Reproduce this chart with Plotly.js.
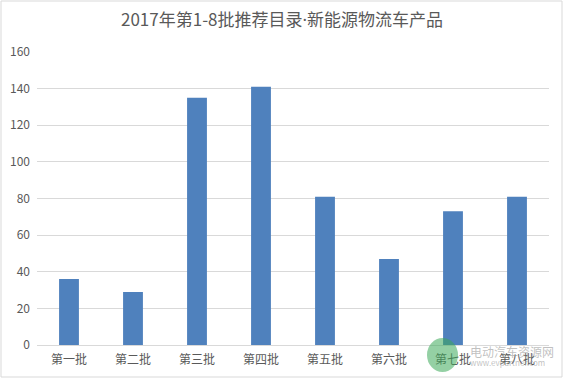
<!DOCTYPE html>
<html><head><meta charset="utf-8">
<script src="https://cdn.plot.ly/plotly-3.0.1.min.js"></script>
<style>html,body{margin:0;padding:0;background:#fff}#c{width:564px;height:379px}</style>
</head><body><div id="c"></div>
<script>
const categories = ['第一批','第二批','第三批','第四批','第五批','第六批','第七批','第八批'];
const values = [36, 29, 135, 141, 81, 47, 73, 81];
const yTicks = [0, 20, 40, 60, 80, 100, 120, 140, 160];
const titleParts = ['2017年第1-8批推荐目录', '新能源物流车产品'];

const font = "'Noto Sans CJK SC', 'Noto Sans', sans-serif";
const titleText = titleParts[0] + "<span style=\"font-family:'Noto Sans'\">·</span>" + titleParts[1];
Plotly.newPlot('c', [{
  type: 'bar', x: categories, y: values,
  marker: {color: '#4f81bd'}, hoverinfo: 'none'
}], {
  width: 564, height: 379,
  margin: {l: 37, r: 15, t: 52, b: 34},
  paper_bgcolor: '#fff', plot_bgcolor: '#fff',
  bargap: 0.69,
  title: {text: titleText, x: 0.5, xanchor: 'center', y: 0.947, yanchor: 'middle',
          font: {family: font, size: 17, color: '#595959'}},
  font: {family: font, color: '#595959', size: 12},
  xaxis: {showgrid: false, showline: true, linecolor: '#d9d9d9', linewidth: 1,
          ticks: '', tickfont: {size: 12, color: '#595959'}, ticklabelstandoff: 4, fixedrange: true},
  yaxis: {range: [0, 160], tickvals: yTicks, showgrid: true, gridcolor: '#d9d9d9',
          zeroline: false, showline: false, ticks: '', ticklen: 0, ticklabelstandoff: 6,
          tickfont: {size: 12, color: '#595959'}, fixedrange: true},
  shapes: [
    {type: 'rect', xref: 'paper', yref: 'paper', x0: -36/512, x1: 1 + 13/512,
     y0: -32/293, y1: 1 + 51/293, line: {color: '#d9d9d9', width: 1}},
    {type: 'circle', xref: 'paper', yref: 'paper', x0: (427-37)/512, x1: (458-37)/512,
     y0: (345-372)/293, y1: (345-338)/293, fillcolor: 'rgba(60,170,90,0.55)', line: {width: 0}, layer: 'above'}
  ],
  annotations: [
    {xref: 'paper', yref: 'paper', x: (468-37)/512, y: (345-351)/293, xanchor: 'left', yanchor: 'middle',
     text: '电动汽车资源网', showarrow: false, font: {family: font, size: 12, color: 'rgba(150,150,150,0.6)'}},
    {xref: 'paper', yref: 'paper', x: (468-37)/512, y: (345-362)/293, xanchor: 'left', yanchor: 'middle',
     text: 'www.evpartner.com', showarrow: false, font: {family: font, size: 8, color: 'rgba(150,150,150,0.6)'}}
  ],
  showlegend: false
}, {displayModeBar: false, staticPlot: true});
</script></body></html>
